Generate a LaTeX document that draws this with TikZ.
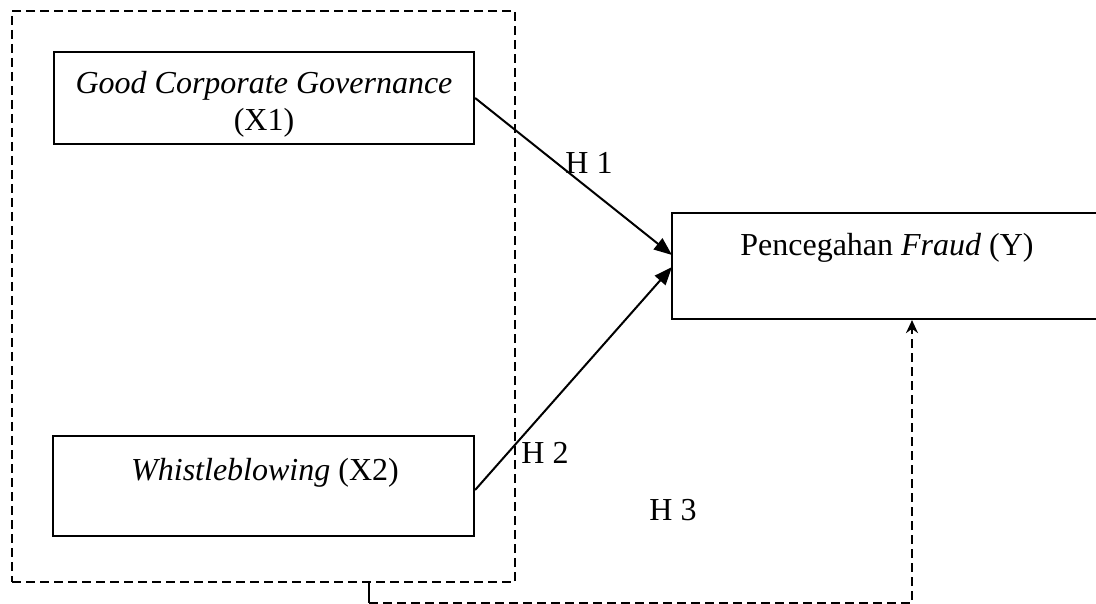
\documentclass[tikz,border=0pt]{standalone}
\usepackage{fontspec}
\setmainfont{Liberation Serif}
\usetikzlibrary{arrows.meta,calc}
\begin{document}
\begin{tikzpicture}[x=1pt,y=-1pt,
  box/.style={draw,line width=2.2pt,rectangle,inner sep=0pt,minimum width=#1},
  dashbox/.style={draw,line width=2pt,dash pattern=on 9pt off 5pt,rectangle,inner sep=0pt},
  txt/.style={font=\fontsize{32}{37}\selectfont,inner sep=0pt,anchor=base},
  arr/.style={line width=2pt,-{Triangle[length=18pt,width=14pt]}},
  darr/.style={line width=2pt,dash pattern=on 9pt off 5pt,-{Stealth[length=13pt,width=12pt]}}
]
\useasboundingbox (0,0) rectangle (1096,604);
% outer dashed group
\node[dashbox,minimum width=503pt,minimum height=571pt] (grp) at (263.5,296.5) {};
% boxes
\node[box=420pt,minimum height=92pt] (x1) at (264,98) {};
\node[box=421pt,minimum height=100pt] (x2) at (263.5,486) {};
\node[box=430pt,minimum height=106pt] (y) at (887,266) {};
% texts
\node[txt] (t1) at (264,94) {\itshape Good Corporate Governance};
\node[txt] (t1b) at (264,131) {(X1)};
\node[txt] (t2) at (265,480) {\textit{Whistleblowing} (X2)};
\node[txt] (t3) at (887,256) {Pencegahan \textit{Fraud} (Y)};
% hypothesis labels
\node[txt] (h1) at (589,174) {H 1};
\node[txt] (h2) at (545,463) {H 2};
\node[txt] (h3) at (673,520) {H 3};
% connectors
\coordinate (yin1) at (672,255);
\coordinate (yin2) at (672,267);
\draw[arr] (x1.east) -- (yin1);
\draw[arr] (x2.east |- 0,490) -- (yin2);
\coordinate (gs) at (369,582);
\coordinate (c1) at (369,603);
\coordinate (c2) at (912,603);
\draw[line width=2pt] (gs) -- (c1);
\draw[darr] (c1) -- (c2) -- (c2 |- y.south);
\end{tikzpicture}
\end{document}
